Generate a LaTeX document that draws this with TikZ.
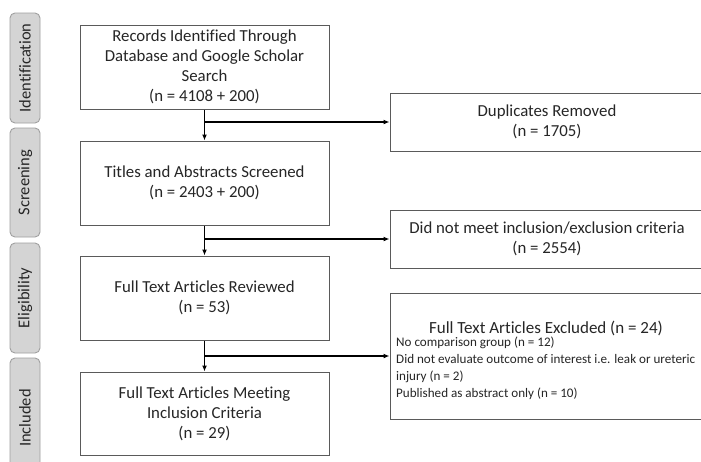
\documentclass[tikz,border=0pt]{standalone}
\usepackage{fontspec}
\setmainfont[Ligatures=NoCommon]{Carlito}
\usetikzlibrary{arrows.meta}
\definecolor{boxline}{HTML}{5A5A5A}
\definecolor{tabfill}{HTML}{D4D4D4}
\definecolor{tabline}{HTML}{A0A0A0}
\tikzset{
  mainbox/.style={draw=boxline, line width=1pt, fill=white, minimum width=249pt, minimum height=84pt, align=center, inner sep=0pt, font=\fontsize{16.8}{20}\selectfont, text=black!85},
  sidebox/.style={draw=boxline, line width=1pt, fill=white, minimum width=314pt, minimum height=58pt, align=center, inner sep=0pt, font=\fontsize{16.8}{20}\selectfont, text=black!85},
  tabbox/.style={draw=tabline, line width=0.9pt, fill=tabfill, rounded corners=5pt, minimum width=30pt, inner sep=0pt},
  tabtext/.style={rotate=90, font=\fontsize{16.5}{18}\selectfont, text=black!85},
  flow/.style={draw=black, line width=1.7pt, -{Latex[length=6pt,width=5pt]}},
}
\begin{document}
\begin{tikzpicture}[x=1pt,y=-1pt]
\clip (0,0) rectangle (701,461);
\fill[white] (0,0) rectangle (701,461);
% side tabs
\node[tabbox, minimum height=110pt] (t1) at (25,68) {};
\node[tabtext] (t1l) at (25,68) {Identification};
\node[tabbox, minimum height=109pt] (t2) at (25,182.5) {};
\node[tabtext] (t2l) at (25,182.5) {Screening};
\node[tabbox, minimum height=110pt] (t3) at (25,298) {};
\node[tabtext] (t3l) at (25,298) {Eligibility};
\node[tabbox, minimum height=120pt] (t4) at (25,418) {};
\node[tabtext] (t4l) at (25,418) {Included};
% main boxes
\node[mainbox] (b1) at (204.5,67) {Records Identified Through\\Database and Google Scholar\\Search\\(n = 4108 + 200)};
\node[mainbox] (b2) at (204.5,183) {Titles and Abstracts Screened\\(n = 2403 + 200)};
\node[mainbox] (b3) at (204.5,298) {Full Text Articles Reviewed\\(n = 53)};
\node[mainbox, minimum height=83pt] (b4) at (204.5,413.5) {Full Text Articles Meeting\\Inclusion Criteria\\(n = 29)};
% right boxes
\node[sidebox] (d1) at (547,122) {Duplicates Removed\\(n = 1705)};
\node[sidebox] (d2) at (547,239) {Did not meet inclusion/exclusion criteria\\(n = 2554)};
\node[sidebox, minimum height=126pt] (d3) at (547,356) {};
\node[font=\fontsize{17}{20}\selectfont, text=black!85, inner sep=0pt, anchor=base] (d3t) at (546,333) {Full Text Articles Excluded (n = 24)};
\node[anchor=base west, align=left, inner sep=0pt, font=\fontsize{13.1}{16.7}\selectfont, text=black!85] (d3l) at (396,397) {No comparison group (n = 12)\\Did not evaluate outcome of interest i.e. leak or ureteric\\injury (n = 2)\\Published as abstract only (n = 10)};
% connectors
\coordinate (j1) at (b1.south |- d1.west);
\coordinate (j2) at (b2.south |- d2.west);
\coordinate (j3) at (b3.south |- d3.west);
\draw[flow] (b1.south) -- (b2.north);
\draw[flow] (b2.south) -- (b3.north);
\draw[flow] (b3.south) -- (b4.north);
\draw[flow] (j1) -- (d1.west);
\draw[flow] (j2) -- (d2.west);
\draw[flow] (j3) -- (d3.west);
\end{tikzpicture}
\end{document}
